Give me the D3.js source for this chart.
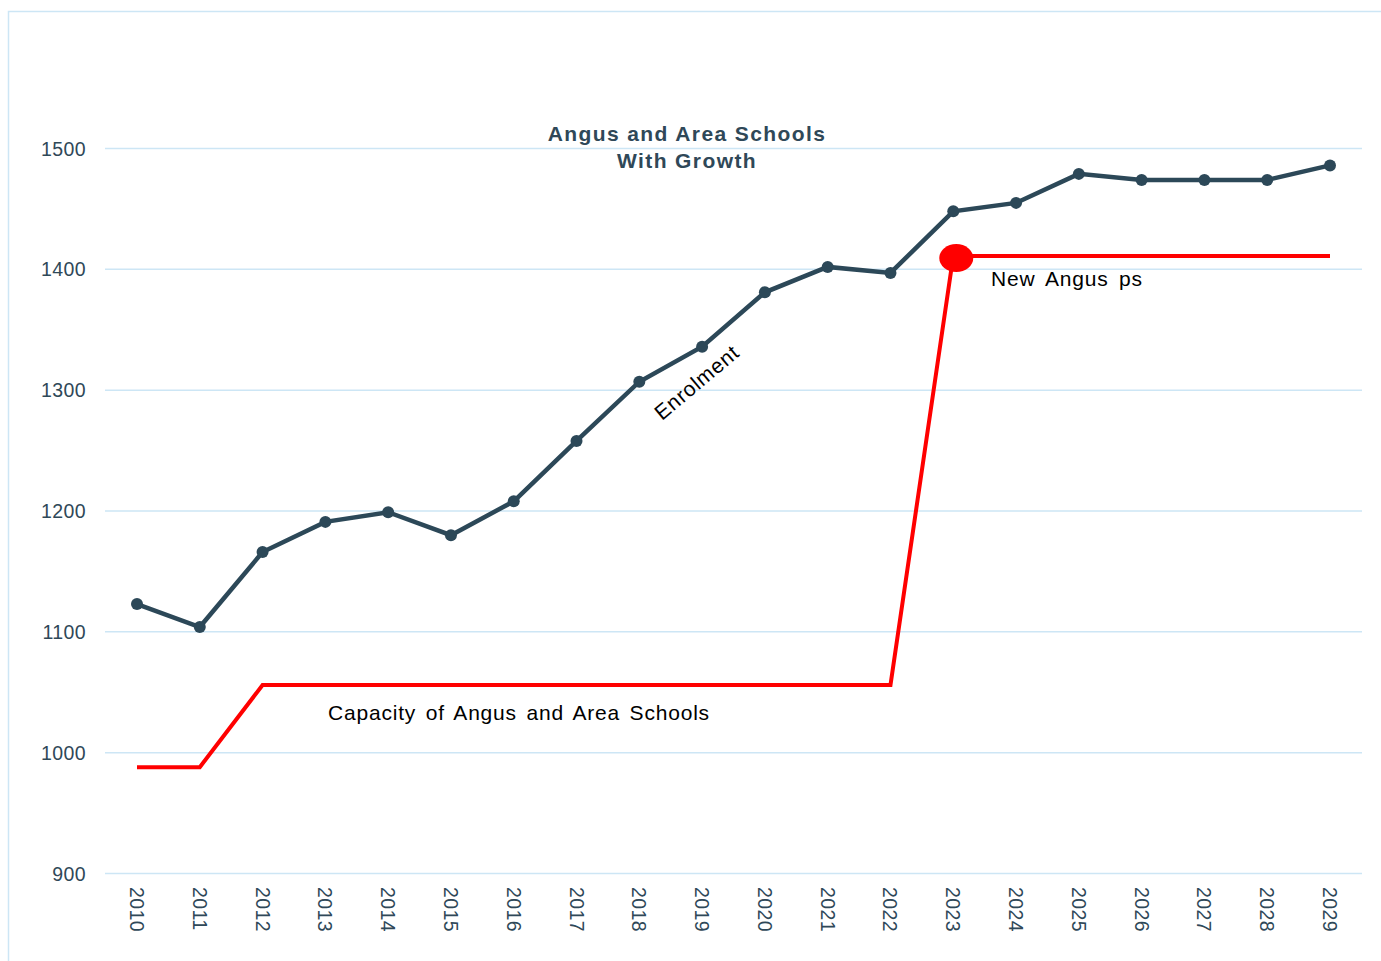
<!DOCTYPE html>
<html>
<head>
<meta charset="utf-8">
<script src="https://cdn.jsdelivr.net/npm/d3@7"></script>
<style>
  body { margin: 0; background: #fff; }
  svg { display: block; font-family: "Liberation Sans", Arial, sans-serif; }
</style>
</head>
<body>
<div id="chart"></div>
<script>
const years = [2010, 2011, 2012, 2013, 2014, 2015, 2016, 2017, 2018, 2019,
  2020, 2021, 2022, 2023, 2024, 2025, 2026, 2027, 2028, 2029];
const enrolment = [1123, 1104, 1166, 1191, 1199, 1180, 1208, 1258, 1307, 1336,
  1381, 1402, 1397, 1448, 1455, 1479, 1474, 1474, 1474, 1486];
const capacity = [988, 988, 1056, 1056, 1056, 1056, 1056, 1056, 1056, 1056,
  1056, 1056, 1056, 1411, 1411, 1411, 1411, 1411, 1411, 1411];
const yTicks = [900, 1000, 1100, 1200, 1300, 1400, 1500];
const titleLines = ['Angus and Area Schools', 'With Growth'];

const W = 1381, H = 961;
const textColor = '#2f4858';
const lineColor = '#2c4858';
const gridColor = '#cde6f5';

const svg = d3.select('#chart').append('svg')
  .attr('width', W)
  .attr('height', H);

// frame
svg.append('rect')
  .attr('x', 8.5).attr('y', 11.5)
  .attr('width', W + 10).attr('height', H + 10)
  .attr('fill', 'none')
  .attr('stroke', gridColor)
  .attr('stroke-width', 1.5);

const x = d3.scalePoint().domain(years).range([137, 1330]);
const y = d3.scaleLinear().domain([900, 1500]).range([873.5, 148.5]);

// gridlines
svg.append('g').selectAll('line')
  .data(yTicks)
  .enter().append('line')
  .attr('x1', 105).attr('x2', 1362)
  .attr('y1', (d) => y(d)).attr('y2', (d) => y(d))
  .attr('stroke', gridColor)
  .attr('stroke-width', 1.5);

// y axis labels
svg.append('g').selectAll('text')
  .data(yTicks)
  .enter().append('text')
  .attr('x', 86)
  .attr('y', (d) => y(d) + 7)
  .attr('text-anchor', 'end')
  .attr('font-size', 19.5)
  .attr('letter-spacing', 0.4)
  .attr('fill', textColor)
  .text((d) => d);

// x axis labels (rotated)
svg.append('g').selectAll('text')
  .data(years)
  .enter().append('text')
  .attr('transform', (d) => `translate(${x(d) - 7},887) rotate(90)`)
  .attr('font-size', 19.5)
  .attr('letter-spacing', 0.4)
  .attr('fill', textColor)
  .text((d) => d);

const line = d3.line()
  .x((d, i) => x(years[i]))
  .y((d) => y(d));

// capacity line
svg.append('path')
  .datum(capacity)
  .attr('d', line)
  .attr('fill', 'none')
  .attr('stroke', '#ff0000')
  .attr('stroke-width', 4);

const iNew = years.indexOf(2023);
svg.append('ellipse')
  .attr('cx', x(years[iNew]) + 3)
  .attr('cy', y(capacity[iNew]) + 2)
  .attr('rx', 17).attr('ry', 14)
  .attr('fill', '#ff0000');

// enrolment line
svg.append('path')
  .datum(enrolment)
  .attr('d', line)
  .attr('fill', 'none')
  .attr('stroke', lineColor)
  .attr('stroke-width', 4.5);

svg.append('g').selectAll('circle')
  .data(enrolment)
  .enter().append('circle')
  .attr('cx', (d, i) => x(years[i]))
  .attr('cy', (d) => y(d))
  .attr('r', 6)
  .attr('fill', lineColor);

// title
svg.append('text')
  .attr('x', 687).attr('y', 141)
  .attr('text-anchor', 'middle')
  .attr('font-size', 21)
  .attr('font-weight', 'bold')
  .attr('letter-spacing', 1.4)
  .attr('fill', textColor)
  .selectAll('tspan')
  .data(titleLines)
  .enter().append('tspan')
  .attr('x', 687)
  .attr('dy', (d, i) => (i ? 27 : 0))
  .text((d) => d);

// annotations
svg.append('text')
  .attr('x', 328).attr('y', 720)
  .attr('font-size', 21)
  .attr('fill', '#000')
  .attr('letter-spacing', 0.8)
  .attr('word-spacing', 3)
  .text('Capacity of Angus and Area Schools');

svg.append('text')
  .attr('x', 991).attr('y', 286)
  .attr('font-size', 21)
  .attr('fill', '#000')
  .attr('letter-spacing', 0.8)
  .attr('word-spacing', 4)
  .text('New Angus ps');

svg.append('text')
  .attr('transform', 'translate(662,421) rotate(-40)')
  .attr('font-size', 21)
  .attr('fill', '#000')
  .attr('letter-spacing', 0.8)
  .text('Enrolment');
</script>
</body>
</html>
